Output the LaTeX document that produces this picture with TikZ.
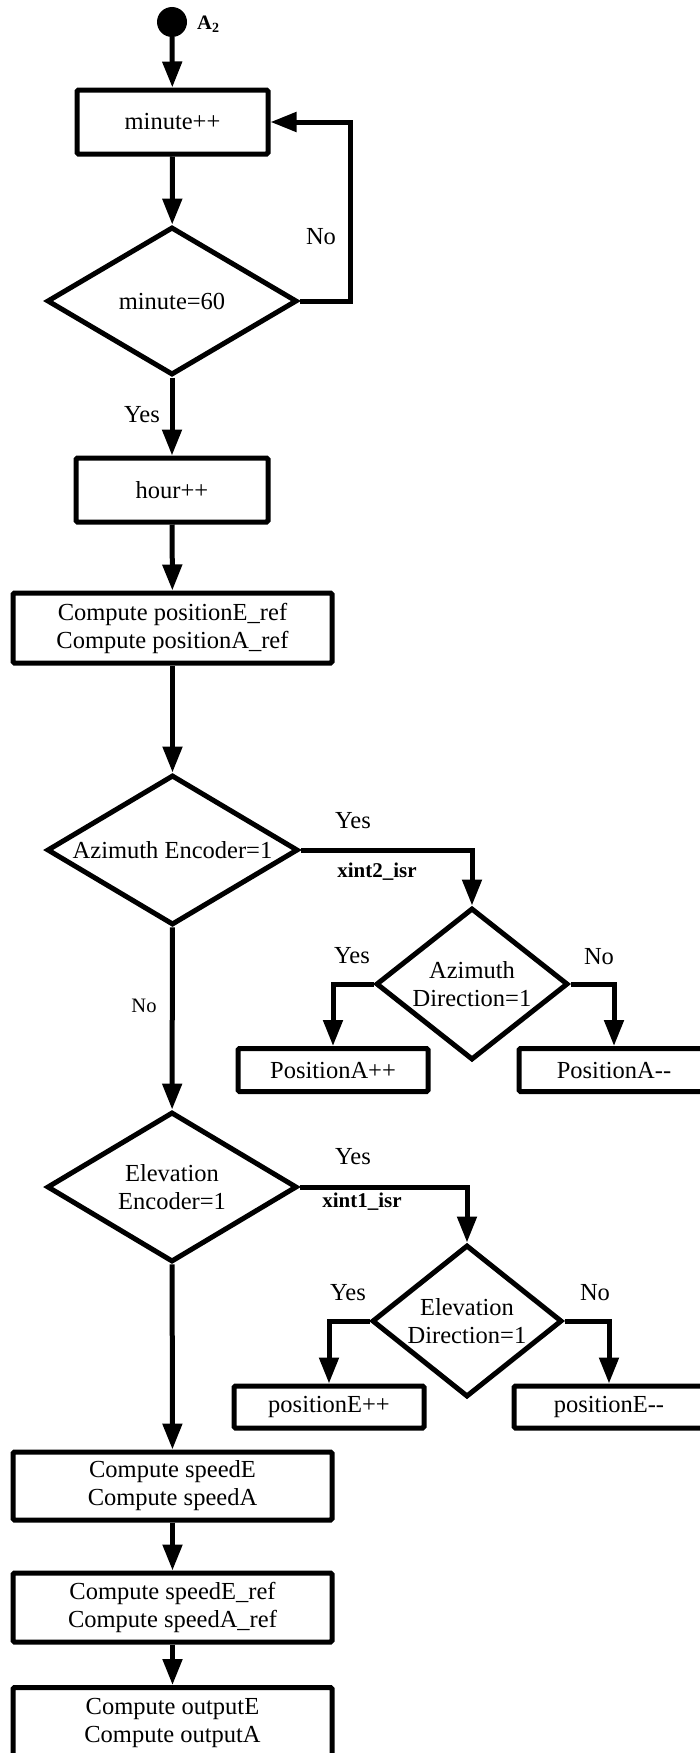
\documentclass[tikz,border=0pt]{standalone}
\usepackage{fontspec}
\setmainfont{Liberation Serif}
\usetikzlibrary{shapes.geometric,arrows.meta}
\begin{document}
\begin{tikzpicture}[x=1pt,y=-1pt,
  every node/.style={font=\fontsize{24.5}{28}\selectfont},
  box/.style={draw, line width=5pt, rounded corners=1.5pt, inner sep=0pt, align=center},
  dec/.style={draw, diamond, line width=5pt, inner sep=0pt, align=center},
  arr/.style={line width=5pt, -{Triangle[length=26pt,width=19pt]}},
  lbl/.style={inner sep=0pt},
  isr/.style={inner sep=0pt, font=\bfseries\fontsize{21}{24}\selectfont},
]
\useasboundingbox (0,0) rectangle (700,1753);
\clip (0,0) rectangle (700,1753);

% nodes
\node[circle, fill, minimum size=30pt, inner sep=0pt] (start) at (172,22) {};
\node[anchor=west, inner sep=0pt, font=\bfseries\fontsize{20.5}{22}\selectfont] (a2) at (197,24) {A\raisebox{-0.35ex}{\fontsize{14}{15}\selectfont 2}};

\node[box, minimum width=191pt, minimum height=64pt] (min) at (172.5,122) {minute++};
\node[dec, minimum width=250pt, minimum height=148pt, aspect=1.69] (m60) at (172,301) {minute=60};
\node[box, minimum width=192pt, minimum height=64pt] (hour) at (172,490) {hour++};
\node[box, minimum width=319pt, minimum height=70pt] (cpos) at (172.5,628) {Compute positionE\_ref\\Compute positionA\_ref};
\node[dec, minimum width=251pt, minimum height=150pt, aspect=1.67] (az) at (172.5,850) {Azimuth Encoder=1};
\node[dec, minimum width=192pt, minimum height=152pt, aspect=1.26] (azdir) at (472,984) {Azimuth\\Direction=1};
\node[box, minimum width=190pt, minimum height=43pt] (pa1) at (333,1070) {PositionA++};
\node[box, minimum width=190pt, minimum height=43pt] (pa2) at (614,1070) {PositionA-{}-};
\node[dec, minimum width=250pt, minimum height=150pt, aspect=1.67] (el) at (172,1187) {Elevation\\Encoder=1};
\node[dec, minimum width=190pt, minimum height=152pt, aspect=1.25] (eldir) at (467,1321) {Elevation\\Direction=1};
\node[box, minimum width=190pt, minimum height=42pt] (pe1) at (329,1407) {positionE++};
\node[box, minimum width=190pt, minimum height=42pt] (pe2) at (609,1407) {positionE-{}-};
\node[box, minimum width=319pt, minimum height=68pt] (spd) at (172.5,1486) {Compute speedE\\Compute speedA};
\node[box, minimum width=319pt, minimum height=69pt] (sref) at (172.5,1607.5) {Compute speedE\_ref\\Compute speedA\_ref};
\node[box, minimum width=319pt, minimum height=70pt] (out) at (172.5,1722.5) {Compute outputE\\Compute outputA};

\coordinate (loopx) at (350,0);

% connectors
\draw[arr] (start) -- (min);
\draw[arr] (min) -- (m60);
\draw[arr] (m60.east) -- (m60.east -| loopx) |- (min.east);
\draw[arr] (m60) -- (hour);
\draw[arr] (hour) -- (cpos);
\draw[arr] (cpos) -- (az);
\draw[arr] (az.east) -| (azdir.north);
\draw[arr] (azdir.west) -| (pa1.north);
\draw[arr] (azdir.east) -| (pa2.north);
\draw[arr] (az) -- (el);
\draw[arr] (el.east) -| (eldir.north);
\draw[arr] (eldir.west) -| (pe1.north);
\draw[arr] (eldir.east) -| (pe2.north);
\draw[arr] (el) -- (spd);
\draw[arr] (spd) -- (sref);
\draw[arr] (sref) -- (out);

% labels
\node[lbl] (lno1) at (321,237) {No};
\node[lbl] (lyes1) at (142,415) {Yes};
\node[lbl] (lyes2) at (353,821) {Yes};
\node[isr] (lisr2) at (377,872) {xint2\_isr};
\node[lbl] (lyes3) at (352,956) {Yes};
\node[lbl] (lno3) at (599,957) {No};
\node[lbl, font=\fontsize{20.5}{24}\selectfont] (lno2) at (144,1006) {No};
\node[lbl] (lyes4) at (353,1157) {Yes};
\node[isr] (lisr1) at (362,1202) {xint1\_isr};
\node[lbl] (lyes5) at (348,1293) {Yes};
\node[lbl] (lno4) at (595,1293) {No};
\end{tikzpicture}
\end{document}
